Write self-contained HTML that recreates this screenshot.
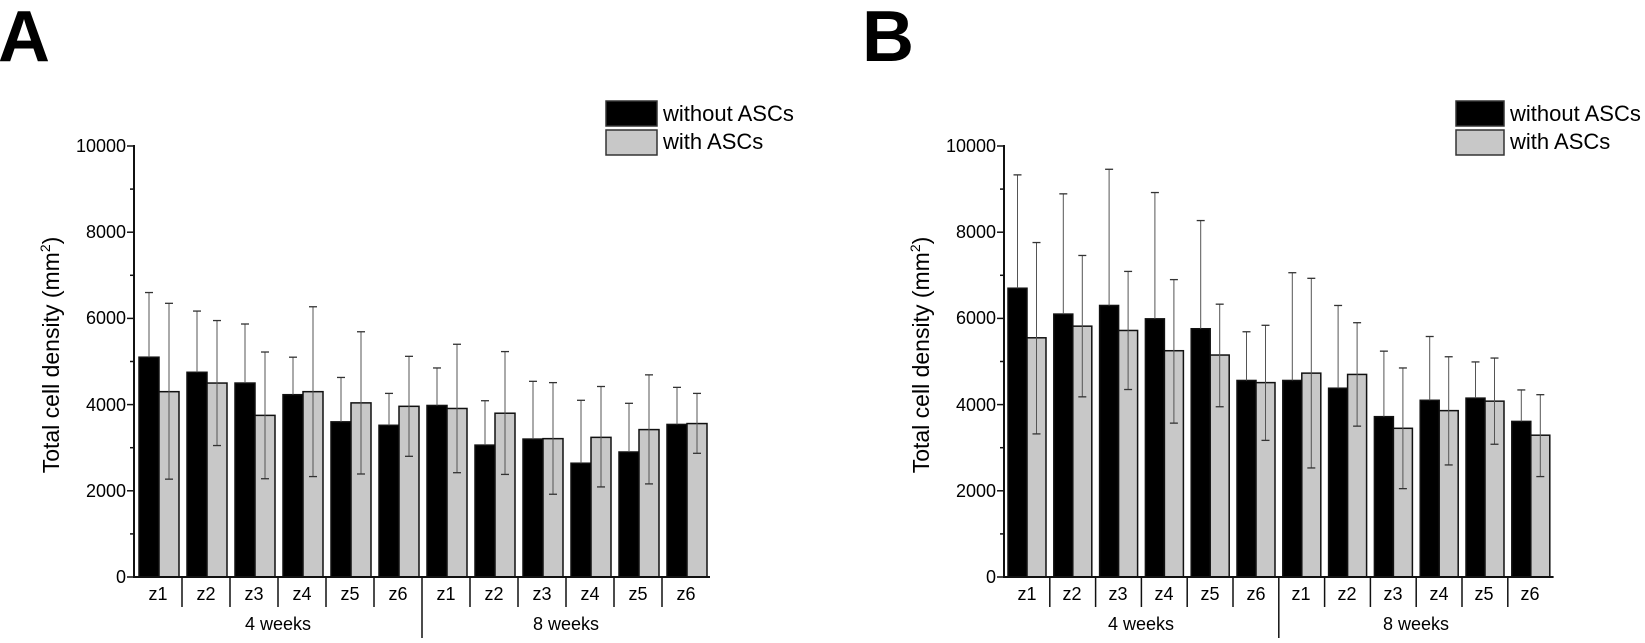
<!DOCTYPE html>
<html><head><meta charset="utf-8"><style>
html,body{margin:0;padding:0;background:#fff;}
svg{display:block;font-family:"Liberation Sans",Arial,sans-serif;}
</style></head><body>
<svg id="s" width="1645" height="643" viewBox="0 0 1645 643" xmlns="http://www.w3.org/2000/svg">
<text x="-2" y="61" font-size="72" font-weight="bold">A</text>
<text x="862" y="61" font-size="72" font-weight="bold">B</text>
<g font-size="18" text-anchor="end">
<text x="126" y="152">10000</text><text x="126" y="238">8000</text><text x="126" y="324">6000</text><text x="126" y="411">4000</text><text x="126" y="497">2000</text><text x="126" y="583">0</text>
<text x="996" y="152">10000</text><text x="996" y="238">8000</text><text x="996" y="324">6000</text><text x="996" y="411">4000</text><text x="996" y="497">2000</text><text x="996" y="583">0</text>
</g>
<text transform="translate(59,355) rotate(-90)" font-size="23" text-anchor="middle">Total cell density (mm<tspan dy="-9" font-size="14">2</tspan><tspan dy="9">)</tspan></text>
<text transform="translate(929,355) rotate(-90)" font-size="23" text-anchor="middle">Total cell density (mm<tspan dy="-9" font-size="14">2</tspan><tspan dy="9">)</tspan></text>
<g font-size="18" text-anchor="middle">
<text x="158" y="600">z1</text><text x="206" y="600">z2</text><text x="254" y="600">z3</text><text x="302" y="600">z4</text><text x="350" y="600">z5</text><text x="398" y="600">z6</text>
<text x="446" y="600">z1</text><text x="494" y="600">z2</text><text x="542" y="600">z3</text><text x="590" y="600">z4</text><text x="638" y="600">z5</text><text x="686" y="600">z6</text>
<text x="278" y="630">4 weeks</text><text x="566" y="630">8 weeks</text>
<text x="1027" y="600">z1</text><text x="1072" y="600">z2</text><text x="1118" y="600">z3</text><text x="1164" y="600">z4</text><text x="1210" y="600">z5</text><text x="1256" y="600">z6</text>
<text x="1301" y="600">z1</text><text x="1347" y="600">z2</text><text x="1393" y="600">z3</text><text x="1439" y="600">z4</text><text x="1484" y="600">z5</text><text x="1530" y="600">z6</text>
<text x="1141" y="630">4 weeks</text><text x="1416" y="630">8 weeks</text>
</g>
<g font-size="22">
<rect x="606" y="101" width="51" height="25" fill="#000" stroke="#333" stroke-width="1.5"/>
<rect x="606" y="130" width="51" height="25" fill="#c8c8c8" stroke="#333" stroke-width="1.5"/>
<text x="663" y="121">without ASCs</text><text x="663" y="149">with ASCs</text>
<rect x="1456" y="101" width="48" height="25" fill="#000" stroke="#333" stroke-width="1.5"/>
<rect x="1456" y="130" width="48" height="25" fill="#c8c8c8" stroke="#333" stroke-width="1.5"/>
<text x="1510" y="121">without ASCs</text><text x="1510" y="149">with ASCs</text>
</g>
<g id="g"></g>
</svg>
<script>
var NS="http://www.w3.org/2000/svg",G=document.getElementById('g');
function el(t,a){var e=document.createElementNS(NS,t);for(var k in a)e.setAttribute(k,a[k]);G.appendChild(e);return e;}
var y0=577,k=0.0431;function Y(v){return y0-v*k;}
function panel(ax,gw,pad,bw,data){
  var end=ax+gw*12;
  data.forEach(function(d,i){
    var g=ax+i*gw, bx=g+pad, gx=bx+bw;
    el('rect',{x:bx,y:Y(d[0]),width:bw,height:d[0]*k,fill:'#000',stroke:'#111','stroke-width':1.5});
    el('rect',{x:gx,y:Y(d[2]),width:bw,height:d[2]*k,fill:'#c8c8c8',stroke:'#111','stroke-width':1.5});
    var cx=bx+bw/2;
    el('line',{x1:cx,x2:cx,y1:Y(d[0]),y2:Y(d[1]),stroke:'#555','stroke-width':1});
    el('line',{x1:cx-4,x2:cx+4,y1:Y(d[1]),y2:Y(d[1]),stroke:'#333','stroke-width':1.3});
    cx=gx+bw/2;
    el('line',{x1:cx,x2:cx,y1:Y(d[3]),y2:Y(d[4]),stroke:'#555','stroke-width':1});
    el('line',{x1:cx-4,x2:cx+4,y1:Y(d[3]),y2:Y(d[3]),stroke:'#333','stroke-width':1.3});
    el('line',{x1:cx-4,x2:cx+4,y1:Y(d[4]),y2:Y(d[4]),stroke:'#333','stroke-width':1.3});
    if(i>0) el('line',{x1:g,x2:g,y1:y0,y2:(i==6?638:607),stroke:'#111','stroke-width':1.5});
  });
  el('line',{x1:ax,x2:ax,y1:Y(10000)-1,y2:y0,stroke:'#111','stroke-width':2});
  el('line',{x1:ax-1,x2:end,y1:y0,y2:y0,stroke:'#111','stroke-width':2});
  for(var v=0;v<=10000;v+=1000){el('line',{x1:ax-(v%2000?4:7),x2:ax,y1:Y(v),y2:Y(v),stroke:'#111','stroke-width':1.5});}
}
panel(134,48,5,20,[
[5100,6600,4300,2270,6350],[4750,6170,4500,3050,5950],[4500,5870,3750,2280,5220],[4230,5100,4300,2330,6270],[3600,4630,4040,2390,5690],[3520,4260,3960,2800,5120],
[3980,4850,3910,2420,5400],[3060,4090,3800,2380,5230],[3200,4540,3210,1920,4510],[2640,4100,3240,2090,4420],[2900,4030,3420,2160,4690],[3540,4400,3560,2870,4260]]);
panel(1004,45.8,4,19,[
[6700,9330,5550,3320,7760],[6100,8890,5820,4180,7460],[6300,9460,5720,4350,7090],[5990,8920,5250,3570,6900],[5760,8270,5150,3950,6330],[4560,5690,4510,3170,5840],
[4560,7060,4730,2530,6930],[4380,6300,4700,3500,5900],[3720,5240,3450,2050,4850],[4100,5580,3860,2600,5110],[4150,4990,4080,3080,5080],[3610,4340,3290,2330,4230]]);
</script>
</body></html>
